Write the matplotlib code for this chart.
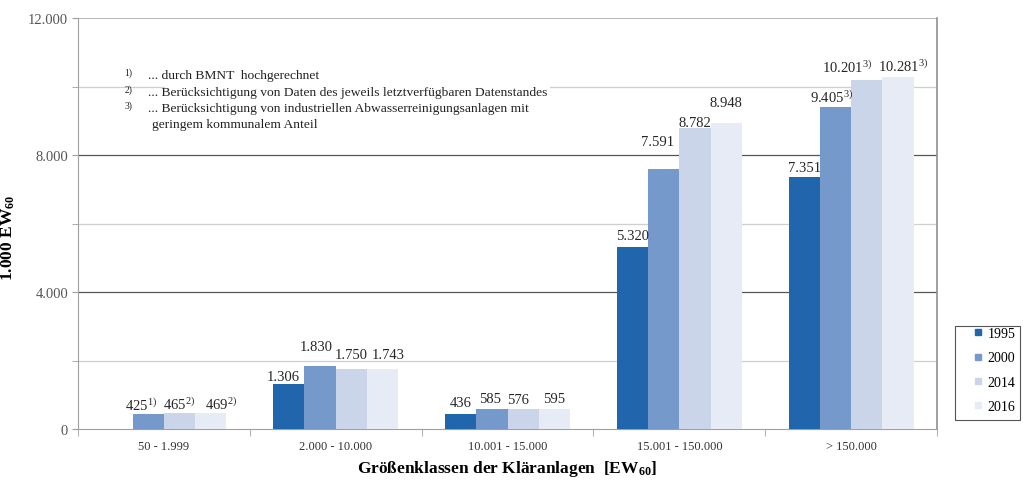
import numpy as np
import matplotlib.pyplot as plt
from matplotlib.ticker import FuncFormatter, MultipleLocator, FixedLocator
from matplotlib.patches import Rectangle
from matplotlib.lines import Line2D

# Daten
klassen = ['50 - 1.999', '2.000 - 10.000', '10.001 - 15.000', '15.001 - 150.000', '> 150.000']
jahre = ['1995', '2000', '2014', '2016']
w1995 = [np.nan, 1306, 436, 5320, 7351]
w2000 = [425, 1830, 585, 7591, 9405]
w2014 = [465, 1750, 576, 8782, 10201]
w2016 = [469, 1743, 595, 8948, 10281]

# Beschriftungen (Fussnoten als Hochzahl)
lab1995 = ['', '1.306', '436', '5.320', '7.351']
lab2000 = ['425$^{1)}$', '1.830', '585', '7.591', '9.405$^{3)}$']
lab2014 = ['465$^{2)}$', '1.750', '576', '8.782', '10.201$^{3)}$']
lab2016 = ['469$^{2)}$', '1.743', '595', '8.948', '10.281$^{3)}$']

# Verschiebung der Beschriftung (Pixel: x, y ueber Balken)
dx1995 = [0, -6, 0, 0, 0]
dx2000 = [-7, -4, -2, -6, -4]
dx2014 = [0, 0, -5, 0, -20]
dx2016 = [10, 6, 0, 0, 5]
dy1995 = [0, 8, 12, 11, 10]
dy2000 = [10, 20, 10, 28, 10]
dy2014 = [9, 15, 10, 6, 13]
dy2016 = [9, 15, 10, 20, 11]

farben = ['#2166ac', '#7599cb', '#cbd5ea', '#e6ebf5']

plt.rcParams['font.family'] = ['Liberation Serif', 'DejaVu Serif']
plt.rcParams['mathtext.fontset'] = 'custom'
plt.rcParams['mathtext.rm'] = 'Liberation Serif'
plt.rcParams['mathtext.it'] = 'Liberation Serif'
plt.rcParams['mathtext.bf'] = 'Liberation Serif:bold'

fig = plt.figure(figsize=(10.23, 4.85), dpi=100)
ax = fig.add_axes([0.0762, 0.1134, 0.916 - 0.0762, 0.9608 - 0.1134])

x = np.arange(len(klassen))
bw = 0.182
werte = [w1995, w2000, w2014, w2016]
labels = [lab1995, lab2000, lab2014, lab2016]
dxs = [dx1995, dx2000, dx2014, dx2016]
dys = [dy1995, dy2000, dy2014, dy2016]

for i in range(len(jahre)):
    pos = x + (i - 1.5) * bw
    ax.bar(pos, werte[i], bw, color=farben[i], zorder=3)
    for p, v, t, ox, oy in zip(pos, werte[i], labels[i], dxs[i], dys[i]):
        if t == '' or np.isnan(v):
            continue
        ax.annotate(t, (p, v), xytext=(ox, oy), textcoords='offset pixels',
                    ha='center', va='center', fontsize=10.5, color='#262626', zorder=4)

ax.set_xlim(-0.5, len(klassen) - 0.5)
ax.set_ylim(0, 12000)

# Gitter
for y in [2000, 6000, 10000]:
    ax.axhline(y, color='#cfcfcf', lw=0.9, zorder=1)
for y in [4000, 8000]:
    ax.axhline(y, color='#555555', lw=0.9, zorder=1)
ax.axhline(12000, color='#a8a8a8', lw=1.2, zorder=1)

ax.yaxis.set_major_locator(FixedLocator([0, 4000, 8000, 12000]))
ax.yaxis.set_minor_locator(MultipleLocator(2000))
ax.yaxis.set_major_formatter(FuncFormatter(lambda v, p: f'{int(v):,}'.replace(',', '.')))
ax.tick_params(axis='y', which='both', length=4, color='#a0a0a0', labelsize=10.5,
               labelcolor='#555555', pad=3)

ax.set_xticks(x)
ax.set_xticklabels(klassen)
ax.xaxis.set_minor_locator(FixedLocator(np.arange(-0.5, len(klassen), 1.0)))
ax.tick_params(axis='x', which='major', length=0, labelsize=9, labelcolor='#333333', pad=8)
ax.tick_params(axis='x', which='minor', length=5, color='#a0a0a0')

for s in ['left', 'bottom']:
    ax.spines[s].set_color('#a0a0a0')
ax.spines['right'].set_color('#909090')
ax.spines['right'].set_linewidth(1.2)
ax.spines['top'].set_visible(False)

ax.set_ylabel('1.000 EW$_{\\mathbf{60}}$', fontsize=12.5, fontweight='bold')
ax.yaxis.set_label_coords(-0.071, 0.467)
ax.set_xlabel('Größenklassen der Kläranlagen  [EW$_{\\mathbf{60}}$]', fontsize=12.5,
              fontweight='bold', labelpad=4)

# Fussnoten
ax.add_patch(Rectangle((0.101, 0.815), 0.449, 0.035, transform=ax.transAxes,
                       facecolor='white', edgecolor='none', zorder=2))
noten = [('1)', '... durch BMNT  hochgerechnet'),
         ('2)', '... Berücksichtigung von Daten des jeweils letztverfügbaren Datenstandes'),
         ('3)', '... Berücksichtigung von industriellen Abwasserreinigungsanlagen mit')]
ty = [0.862, 0.821, 0.781]
for (h, t), yy in zip(noten, ty):
    ax.text(0.054, yy + 0.006, h, transform=ax.transAxes, fontsize=7, color='#222222',
            va='center', zorder=4)
    ax.text(0.082, yy, t, transform=ax.transAxes, fontsize=9.7, color='#222222',
            va='center', zorder=4)
ax.text(0.086, 0.741, 'geringem kommunalem Anteil', transform=ax.transAxes, fontsize=9.7,
        color='#222222', va='center', zorder=4)

# Legende
fig.patches.append(Rectangle((955 / 1023, 1 - 421 / 485), 65 / 1023, 94 / 485,
                             transform=fig.transFigure, facecolor='white',
                             edgecolor='#555555', lw=0.8))
griffe = [Line2D([], [], ls='none', marker='s', markersize=5, color=c) for c in farben]
fig.legend(griffe, jahre, loc='upper left', bbox_to_anchor=(972 / 1023, 1 - 328 / 485),
           fontsize=10, frameon=False, handlelength=0.8, handletextpad=0.3,
           labelspacing=0.82, borderpad=0.0, borderaxespad=0.0)

fig.savefig('out.png', dpi=100)
